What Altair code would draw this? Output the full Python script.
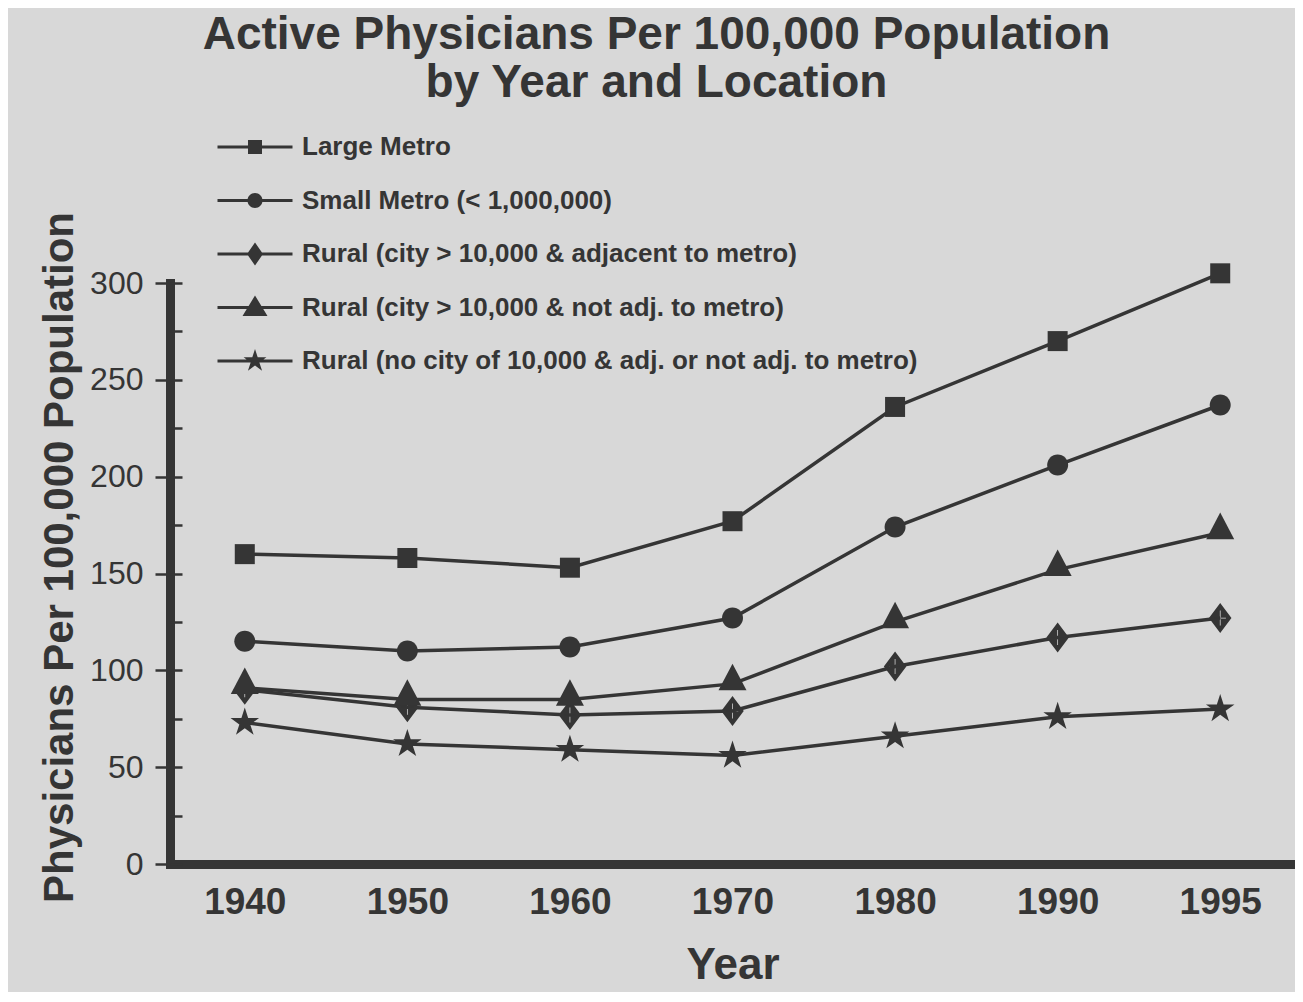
import altair as alt
import pandas as pd

# ---------------- data ----------------
years = ["1940", "1950", "1960", "1970", "1980", "1990", "1995"]
series = [
    "Large Metro",
    "Small Metro (< 1,000,000)",
    "Rural (city > 10,000 & adjacent to metro)",
    "Rural (city > 10,000 & not adj. to metro)",
    "Rural (no city of 10,000 & adj. or not adj. to metro)",
]
large_metro = [160, 158, 153, 177, 236, 270, 305]
small_metro = [115, 110, 112, 127, 174, 206, 237]
rural_adjacent = [90, 81, 77, 79, 102, 117, 127]
rural_not_adjacent = [91, 85, 85, 93, 125, 152, 171]
rural_no_city = [73, 62, 59, 56, 66, 76, 80]
y_tick_values = [0, 50, 100, 150, 200, 250, 300]
y_minor_tick_values = [0, 25, 50, 75, 100, 125, 150, 175, 200, 225, 250, 275, 300]

values = large_metro + small_metro + rural_adjacent + rural_not_adjacent + rural_no_city
df = pd.DataFrame({
    "year": years * len(series),
    "series": [s for s in series for _ in years],
    "value": values,
})

# ---------------- style ----------------
INK = "#353535"
BG = "#d8d8d8"
SANS = "Liberation Sans, Arial, sans-serif"

# marker paths for the plotted points (size 900 -> unit = 15px)
star = ("M0,-1 L0.2245,-0.309 L0.951,-0.309 L0.363,0.118 L0.588,0.809 "
        "L0,0.382 L-0.588,0.809 L-0.363,0.118 L-0.951,-0.309 L-0.2245,-0.309 Z")
point_paths = [
    "M-0.667,-0.667 L0.667,-0.667 L0.667,0.667 L-0.667,0.667 Z",
    "M0.7,0 A0.7,0.7 0 1,1 -0.7,0 A0.7,0.7 0 1,1 0.7,0 Z",
    "M0,-1 L0.75,0 L0,1 L-0.75,0 Z "
    "M-0.025,-0.5 L-0.025,0.5 L0.025,0.5 L0.025,-0.5 Z "
    "M-0.38,-0.025 L-0.38,0.025 L0.38,0.025 L0.38,-0.025 Z",
    "M0,-1.35 L0.933,0.42 L-0.933,0.42 Z",
    star,
]

# legend symbols: line segment + marker (size 400 -> unit = 10px)
bar = "M-3.75,-0.16 L3.75,-0.16 L3.75,0.16 L-3.75,0.16 Z "
star_l = ("M0,-1.2 L0.27,-0.371 L1.141,-0.371 L0.436,0.142 L0.706,0.971 "
          "L0,0.458 L-0.706,0.971 L-0.436,0.142 L-1.141,-0.371 L-0.27,-0.371 Z")
legend_paths = [
    bar + "M-0.7,-0.7 L0.7,-0.7 L0.7,0.7 L-0.7,0.7 Z",
    bar + "M0.75,0 A0.75,0.75 0 1,1 -0.75,0 A0.75,0.75 0 1,1 0.75,0 Z",
    bar + "M0,-1.15 L0.8,0 L0,1.15 L-0.8,0 Z",
    bar + "M0,-1.2 L1.25,0.85 L-1.25,0.85 Z",
    bar + star_l,
]

PLOT_W = 1125
PLOT_H = 581

x_enc = alt.X(
    "year:O",
    sort=years,
    title="Year",
    scale=alt.Scale(type="point", padding=0.46),
    axis=alt.Axis(
        labelAngle=0, ticks=False, tickSize=0, grid=False,
        domainWidth=9, domainColor=INK, domainCap="square",
        labelFont=SANS, labelFontSize=37, labelFontWeight="bold",
        labelColor=INK, labelPadding=20,
        titleFont=SANS, titleFontSize=44, titleFontWeight="bold",
        titleColor=INK, titleY=114, titleBaseline="alphabetic",
    ),
)

y_scale = alt.Scale(domain=[0, 300], nice=False, zero=True)

y_main = alt.Y(
    "value:Q",
    scale=y_scale,
    title="Physicians Per 100,000 Population",
    axis=alt.Axis(
        orient="left", values=y_tick_values, grid=False,
        tickSize=15, tickWidth=2.5, tickColor=INK,
        domainWidth=9, domainColor=INK, domainCap="square",
        labelFont=SANS, labelFontSize=32, labelFontWeight="normal",
        labelColor=INK, labelPadding=12, labelFlush=False,
        labelOverlap=False, labelBound=False,
        titleFont=SANS, titleFontSize=42, titleFontWeight="bold",
        titleColor=INK, titleX=-98, titleY=274, titleAngle=270,
        titleAlign="center", titleBaseline="alphabetic",
    ),
)

y_minor = alt.Y(
    "value:Q",
    scale=y_scale,
    axis=alt.Axis(
        orient="left", offset=-12, values=y_minor_tick_values,
        tickSize=12, tickWidth=2.5, tickColor=INK,
        labels=False, domain=False, grid=False, title=None,
    ),
)

lines = alt.Chart(df).mark_line(color=INK, strokeWidth=3.5).encode(
    x=x_enc, y=y_main, detail="series:N"
)

points = alt.Chart(df).mark_point(
    filled=True, color=INK, size=900, opacity=1, strokeWidth=0
).encode(
    x=x_enc,
    y=y_minor,
    shape=alt.Shape("series:N", scale=alt.Scale(domain=series, range=point_paths), legend=None),
)

legend_layer = alt.Chart(df).transform_filter("false").mark_point(
    filled=True, color=INK, size=400, opacity=1
).encode(
    shape=alt.Shape(
        "series:N",
        title=None,
        scale=alt.Scale(domain=series, range=legend_paths),
        legend=alt.Legend(
            orient="none", legendX=72, legendY=-149, padding=0,
            labelFont=SANS, labelFontSize=26, labelFontWeight="bold",
            labelColor=INK, labelLimit=1000, labelOffset=34,
            symbolSize=400, symbolFillColor=INK, symbolStrokeWidth=0,
            symbolOpacity=1, rowPadding=27.5,
        ),
    )
)

chart = alt.layer(lines, points, legend_layer).resolve_scale(
    shape="independent"
).resolve_axis(
    y="independent"
).properties(
    width=PLOT_W,
    height=PLOT_H,
    padding={"left": 162, "top": 275, "right": 0, "bottom": 128},
    autosize=alt.AutoSizeParams(type="none"),
    background=BG,
    title=alt.TitleParams(
        text=["Active Physicians Per 100,000 Population", "by Year and Location"],
        anchor="middle", font=SANS, fontSize=46, fontWeight="bold",
        color=INK, lineHeight=48, dx=-76, offset=27,
    ),
).configure_view(stroke=None)

chart.save("out.html", embed_options={"renderer": "svg", "actions": False})
